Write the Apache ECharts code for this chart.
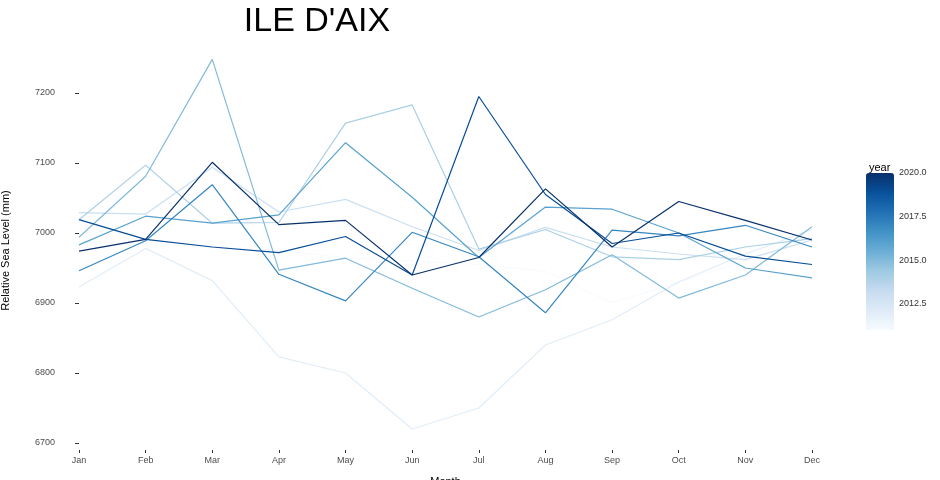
<!DOCTYPE html>
<html>
<head>
<meta charset="UTF-8" />
<script src="https://cdn.jsdelivr.net/npm/echarts@6/dist/echarts.min.js"></script>
<style>
  body { margin: 0; background: #fff; }
  #chart { width: 940px; height: 480px; }
</style>
</head>
<body>
<div id="chart"></div>
<script>
  const months = ['Jan','Feb','Mar','Apr','May','Jun','Jul','Aug','Sep','Oct','Nov','Dec'];
  const years = [2011, 2012, 2013, 2014, 2015, 2016, 2017, 2019, 2020];
  const y2011 = [6988, 6985, 6980, 6975, 6965, 6960, 6955, 6945, 6900, 6930, 6960, 6995];
  const y2012 = [6923, 6978, 6932, 6823, 6800, 6720, 6750, 6840, 6876, 6930, 6970, 7005];
  const y2013 = [7029, 7027, 7094, 7030, 7048, 7009, 6975, 7008, 6980, 6970, 6962, 6990];
  const y2014 = [7019, 7097, 7014, 7015, 7157, 7183, 6977, 7005, 6966, 6962, 6980, 6992];
  const y2015 = [6994, 7081, 7248, 6947, 6964, 6921, 6880, 6919, 6969, 6907, 6940, 7009];
  const y2016 = [6983, 7024, 7014, 7026, 7129, 7051, 6965, 7037, 7034, 7000, 6950, 6936];
  const y2017 = [6946, 6989, 7069, 6941, 6903, 7001, 6966, 6886, 7004, 6996, 7011, 6980];
  const y2019 = [7019, 6991, 6980, 6972, 6995, 6940, 7195, 7055, 6985, 7000, 6967, 6955];
  const y2020 = [6974, 6991, 7101, 7012, 7018, 6940, 6965, 7063, 6980, 7045, 7018, 6990];
  const values = [y2011, y2012, y2013, y2014, y2015, y2016, y2017, y2019, y2020];
  const yTicks = [6700, 6800, 6900, 7000, 7100, 7200];
  const legendTicks = [2012.5, 2015, 2017.5, 2020];

  const palette = ['#f7fbff','#deebf7','#c6dbef','#9ecae1','#6baed6','#4292c6','#2171b5','#08519c','#08306b'];
  const yMin = 2011, yMax = 2020;
  function hex(c) { return [1,3,5].map(i => parseInt(c.substr(i,2),16)); }
  function colorFor(yr) {
    const t = (yr - yMin) / (yMax - yMin) * (palette.length - 1);
    const i = Math.min(Math.floor(t), palette.length - 2), f = t - i;
    const a = hex(palette[i]), b = hex(palette[i+1]);
    return 'rgb(' + a.map((v, k) => Math.round(v + (b[k]-v)*f)).join(',') + ')';
  }

  const chart = echarts.init(document.getElementById('chart'));
  chart.setOption({
    animation: false,
    title: [{
      text: "ILE D'AIX", left: 312, top: 0, textAlign: 'center',
      textStyle: { fontFamily: 'Liberation Sans', fontSize: 34, fontWeight: 'normal', color: '#000' }
    }, {
      text: 'year', left: 864, top: 157,
      textStyle: { fontFamily: 'Liberation Sans', fontSize: 11, fontWeight: 'normal', color: '#000' }
    }],
    grid: [
      { left: 79, right: 128, top: 51, bottom: 30, outerBoundsMode: 'none' },
      { left: 866, width: 28, top: 173, height: 157, outerBoundsMode: 'none' }
    ],
    xAxis: [{
      type: 'category', data: months, boundaryGap: false,
      name: 'Month', nameLocation: 'middle', nameGap: 26,
      nameTextStyle: { color: '#000', fontSize: 11, fontFamily: 'Liberation Sans' },
      axisLine: { show: false },
      axisTick: { show: true, length: 3, lineStyle: { color: '#333' } },
      axisLabel: { color: '#4d4d4d', fontSize: 9, margin: 6, fontFamily: 'Liberation Sans' }
    }, {
      gridIndex: 1, type: 'value', show: false, min: 0, max: 1
    }],
    yAxis: [{
      type: 'value', min: 6690, max: 7260,
      name: 'Relative Sea Level (mm)', nameLocation: 'middle', nameGap: 68, nameRotate: 90,
      nameTextStyle: { color: '#000', fontSize: 11, fontFamily: 'Liberation Sans' },
      axisLine: { show: false },
      axisTick: { show: true, length: 4, lineStyle: { color: '#333' }, customValues: yTicks },
      axisLabel: { color: '#4d4d4d', fontSize: 9, margin: 24, customValues: yTicks,
        formatter: v => String(v), fontFamily: 'Liberation Sans' },
      splitLine: { show: false }
    }, {
      gridIndex: 1, type: 'value', min: yMin, max: yMax, position: 'right',
      axisLine: { show: false },
      axisTick: { show: true, inside: true, length: 5, lineStyle: { color: '#fff' }, customValues: legendTicks },
      axisLabel: { color: '#333', fontSize: 9, margin: 5, customValues: legendTicks,
        formatter: v => v.toFixed(1), fontFamily: 'Liberation Sans' },
      splitLine: { show: false }
    }],
    visualMap: {
      type: 'continuous', min: yMin, max: yMax, seriesIndex: [], calculable: false,
      left: 866, top: 173, itemWidth: 28, itemHeight: 157, text: null, showLabel: false,
      padding: 0, inRange: { color: palette }
    },
    series: values.map((d, i) => ({
      name: String(years[i]), type: 'line', data: d, symbol: 'none',
      lineStyle: { width: 1.2, color: colorFor(years[i]) }, z: 2 + i
    }))
  });
</script>
</body>
</html>
